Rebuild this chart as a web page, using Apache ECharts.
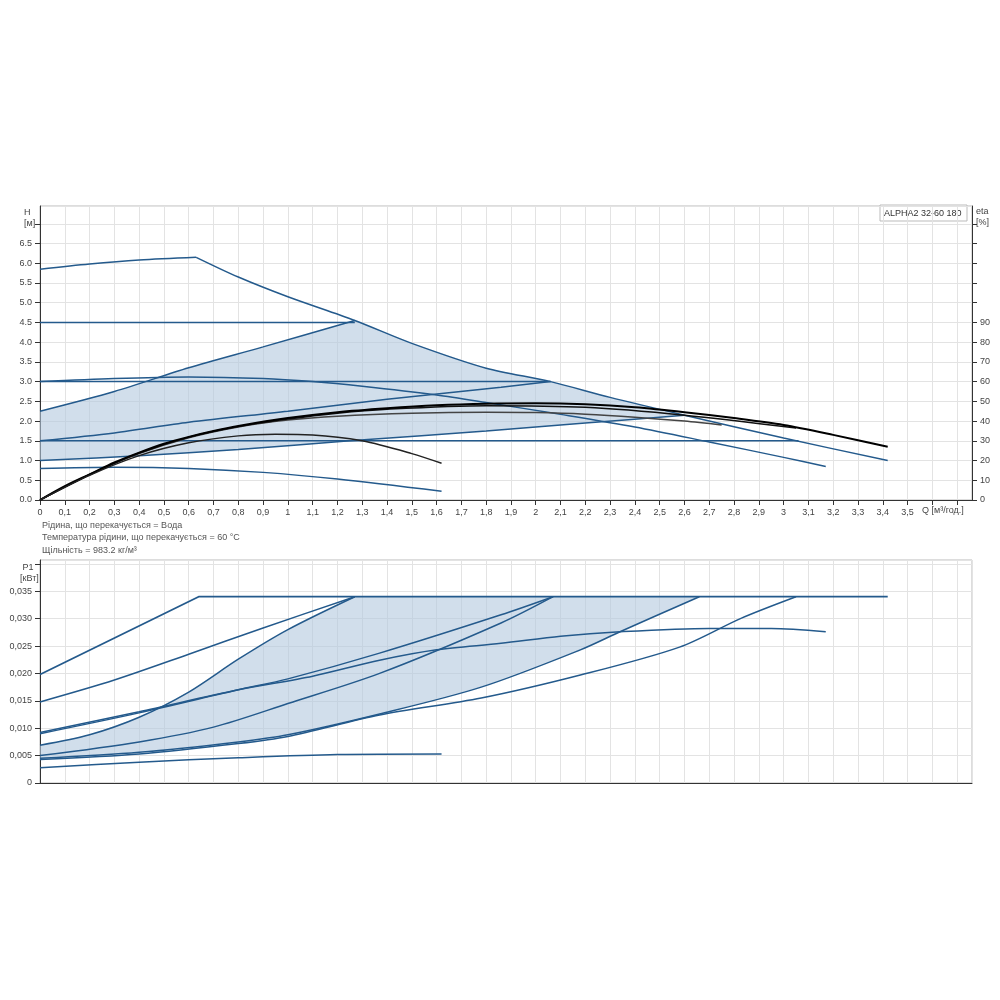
<!DOCTYPE html>
<html><head><meta charset="utf-8">
<script src="https://cdn.jsdelivr.net/npm/echarts@6/dist/echarts.min.js"></script>
<style>html,body{margin:0;background:#fff}#c{width:1000px;height:1000px}</style>
</head><body><div id="c"></div>
<script>
// ---- Data (H [m] vs Q [m3/h]) ----
const maxRise = [[0,5.85],[0.2,5.98],[0.4,6.08],[0.63,6.15]];
const maxFall = [[0.63,6.15],[0.8,5.65],[1.0,5.15],[1.27,4.55],[1.5,3.97],[1.8,3.34],[2.06,3.0],[2.3,2.6],[2.6,2.15],[3.0,1.57],[3.42,1.0]];
const constHigh = [[0,4.5],[1.27,4.5]];
const constMid = [[0,3.0],[2.06,3.0]];
const constLow = [[0,1.5],[3.06,1.5]];
const propHigh = [[0,2.25],[0.3,2.75],[0.6,3.35],[0.9,3.88],[1.27,4.55]];
const propMid = [[0,1.5],[0.3,1.7],[0.6,1.97],[1.0,2.25],[1.4,2.55],[1.86,2.86],[2.06,3.0]];
const propLow = [[0,1.0],[0.4,1.12],[0.8,1.28],[1.25,1.5],[1.8,1.75],[2.2,1.95],[2.6,2.15]];
const speed3 = [[0,3.0],[0.3,3.08],[0.6,3.12],[0.9,3.08],[1.1,3.0],[1.3,2.88],[1.6,2.66],[1.8,2.47],[2.1,2.17],[2.4,1.85],[2.7,1.47],[3.0,1.08],[3.17,0.85]];
const speed1 = [[0,0.8],[0.3,0.83],[0.6,0.8],[0.9,0.7],[1.2,0.53],[1.62,0.22]];
// ---- eta [%] ----
const etaA = [[0,0],[0.1,7],[0.2,13],[0.3,19],[0.4,24],[0.5,28.5],[0.6,32],[0.7,35],[0.8,37.5],[1.0,41.5],[1.2,44.5],[1.4,46.5],[1.6,48],[1.8,48.8],[2.0,49],[2.2,48.5],[2.4,47],[2.6,44.5],[2.8,41.5],[3.0,38],[3.2,33],[3.42,27]];
const etaB = [[0,0],[0.2,12.8],[0.4,23.5],[0.6,31.5],[0.8,37],[1.0,40.5],[1.2,42.5],[1.5,44],[1.8,44.5],[2.0,44.3],[2.2,43.5],[2.4,42],[2.6,40],[2.75,38]];
const etaC = [[0,0],[0.2,12.9],[0.4,23.8],[0.6,31.8],[0.8,37.2],[1.0,41],[1.2,44],[1.4,46],[1.8,47.8],[2.2,47],[2.6,43],[3.05,36.5]];
const etaD = [[0,0],[0.2,12.5],[0.4,22.5],[0.6,29],[0.8,32.5],[0.95,33.3],[1.1,33],[1.3,30],[1.5,23.5],[1.62,18.6]];
// ---- P1 [kW] ----
const pMax = [[0,0.0198],[0.64,0.034],[3.42,0.034]];
const pConstHigh = [[0,0.0148],[0.3,0.0188],[0.6,0.0235],[0.9,0.0283],[1.27,0.034]];
const pPropHigh = [[0,0.0069],[0.2,0.0088],[0.4,0.012],[0.6,0.0166],[0.8,0.0226],[1.0,0.028],[1.27,0.034]];
const pConstMid = [[0,0.009],[0.4,0.0128],[0.8,0.017],[1.0,0.019],[1.37,0.0237],[1.86,0.0307],[2.07,0.034]];
const pPropMid = [[0,0.005],[0.4,0.0075],[0.7,0.0102],[1.0,0.0145],[1.37,0.020],[1.86,0.0292],[2.07,0.034]];
const pPropLow = [[0,0.0045],[0.4,0.0056],[0.8,0.0075],[1.0,0.0088],[1.37,0.0126],[1.78,0.0175],[2.18,0.0243],[2.34,0.0276],[2.66,0.034]];
const pConstLow = [[0,0.0043],[0.4,0.0053],[0.8,0.0072],[1.0,0.0085],[1.37,0.0124],[1.78,0.0155],[2.18,0.0197],[2.58,0.0248],[2.83,0.0301],[3.05,0.034]];
const pSpeed3 = [[0,0.0092],[0.4,0.013],[0.8,0.017],[1.1,0.0195],[1.37,0.0224],[1.6,0.0243],[1.86,0.0255],[2.1,0.0268],[2.34,0.0276],[2.7,0.0282],[2.95,0.0282],[3.17,0.0276]];
const pSpeed1 = [[0,0.0028],[0.4,0.0038],[0.8,0.0046],[1.2,0.0052],[1.62,0.0053]];
const infoLines = ['Рідина, що перекачується = Вода','Температура рідини, що перекачується = 60 °C','Щільність = 983.2 кг/м³'];

const BLUE = '#245a8c', FILL = 'rgba(178,200,222,0.6)';
const topPoly = [[0,1.0]].concat(propHigh, maxFall.filter(p=>p[0]>1.27&&p[0]<=2.6), propLow.slice().reverse());
const botPoly = [[0,0.0045]].concat(pPropHigh, [[2.66,0.034]], pPropLow.slice().reverse());

function area(poly, xi, yi){
  return {type:'custom', xAxisIndex:xi, yAxisIndex:yi, z:1, silent:true, data:[0],
    renderItem:(p,api)=>({type:'polygon', shape:{points:poly.map(q=>api.coord(q))}, style:{fill:FILL}})};
}
function ln(d, xi, yi, color, w, smooth){
  return {type:'line', xAxisIndex:xi, yAxisIndex:yi, data:d, symbol:'none', smooth:smooth===undefined?0.3:smooth,
    lineStyle:{color:color||BLUE, width:w||1.5}, z:3, silent:true};
}
const fmt = v => String(v);
const grid1 = {left:40, right:28, top:206, height:294, show:true, borderColor:'#bbb', borderWidth:1};
const grid2 = {left:40, right:28, top:560, height:223, show:true, borderColor:'#bbb', borderWidth:1};
const split = {show:true, lineStyle:{color:'#e3e3e3', width:1}};
const axLab = {fontSize:9, color:'#444', fontFamily:'Liberation Sans'};
const option = {
  animation:false,
  grid:[grid1, grid2],
  xAxis:[
    {type:'value', gridIndex:0, min:0, max:3.76, interval:0.1, splitLine:split,
     axisLine:{lineStyle:{color:'#333'}}, axisTick:{show:true, lineStyle:{color:'#333'}},
     axisLabel:Object.assign({}, axLab, {showMaxLabel:false, formatter:v=> v>3.55?'':(Math.round(v*10)/10).toString().replace('.',',')})},
    {type:'value', gridIndex:1, min:0, max:3.76, interval:0.1, splitLine:split,
     axisLine:{lineStyle:{color:'#333'}}, axisTick:{show:false}, axisLabel:{show:false}}
  ],
  yAxis:[
    {type:'value', gridIndex:0, min:0, max:7.45, interval:0.5, splitLine:split,
     axisLine:{show:true, lineStyle:{color:'#333'}}, axisTick:{show:true},
     axisLabel:Object.assign({}, axLab, {showMaxLabel:false, formatter:v=> v>6.6?'':v.toFixed(1)})},
    {type:'value', gridIndex:0, position:'right', min:0, max:149, interval:10, splitLine:{show:false},
     axisLine:{show:true, lineStyle:{color:'#333'}}, axisTick:{show:true},
     axisLabel:Object.assign({}, axLab, {showMaxLabel:false, formatter:v=> v>95?'':String(v)})},
    {type:'value', gridIndex:1, min:0, max:0.0407, interval:0.005, splitLine:split,
     axisLine:{show:true, lineStyle:{color:'#333'}}, axisTick:{show:true},
     axisLabel:Object.assign({}, axLab, {showMaxLabel:false, formatter:v=> v>0.036?'':(v===0?'0':v.toFixed(3).replace('.',','))})}
  ],
  graphic:[
    {type:'text', left:24, top:207, style:{text:'H\n[м]', fill:'#444', font:'9px Liberation Sans', lineHeight:11, align:'center'}},
    {type:'text', left:976, top:206, style:{text:'eta\n[%]', fill:'#444', font:'9px Liberation Sans', lineHeight:11}},
    {type:'text', left:20, top:562, style:{text:' P1\n[кВт]', fill:'#444', font:'9px Liberation Sans', lineHeight:11}},
    {type:'text', left:922, top:506, style:{text:'Q [м³/год.]', fill:'#444', font:'9px Liberation Sans'}},
    {type:'rect', shape:{x:880, y:205, width:87, height:16}, style:{fill:'#fff', stroke:'#bbb'}},
    {type:'text', left:884, top:209, style:{text:'ALPHA2 32-60 180', fill:'#333', font:'9px Liberation Sans'}},
    {type:'text', left:42, top:519, style:{text:infoLines.join('\n'), fill:'#555', font:'9px Liberation Sans', lineHeight:12.5}}
  ],
  series:[
    area(topPoly,0,0), area(botPoly,1,2),
    ln(maxRise,0,0), ln(maxFall,0,0), ln(constHigh,0,0,null,1.5,false), ln(constMid,0,0,null,1.5,false), ln(constLow,0,0,null,1.5,false),
    ln(propHigh,0,0), ln(propMid,0,0), ln(propLow,0,0), ln(speed3,0,0), ln(speed1,0,0),
    ln(etaB,0,1,'#444',1.5), ln(etaC,0,1,'#111',1.5), ln(etaA,0,1,'#000',2), ln(etaD,0,1,'#222',1.5),
    ln(pMax,1,2,null,1.8,false), ln(pConstHigh,1,2), ln(pPropHigh,1,2), ln(pConstMid,1,2), ln(pPropMid,1,2),
    ln(pPropLow,1,2), ln(pConstLow,1,2), ln(pSpeed3,1,2), ln(pSpeed1,1,2)
  ]
};
echarts.init(document.getElementById('c')).setOption(option);
</script></body></html>
